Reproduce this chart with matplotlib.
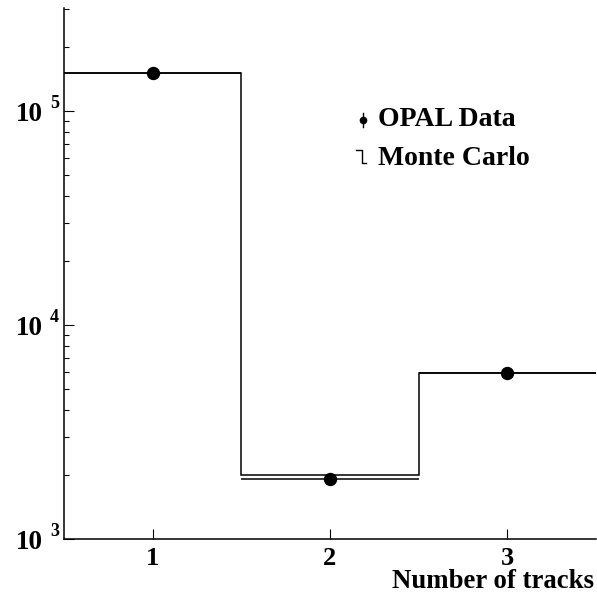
import matplotlib
matplotlib.use("Agg")
import matplotlib.pyplot as plt
from matplotlib.lines import Line2D
from matplotlib.ticker import LogLocator, NullFormatter
import numpy as np

# Track multiplicity distribution
bin_edges = [0.5, 1.5, 2.5, 3.5]
n_tracks = [1, 2, 3]
mc_counts = [150000, 1990, 5950]
data_counts = [150000, 1900, 5950]
x_tick_labels = ["1", "2", "3"]
decades = [3, 4, 5]

SERIF = "Liberation Serif"
W, H = 597, 601

fig = plt.figure(figsize=(W / 100, H / 100), dpi=100)
ax = fig.add_axes([64 / W, (H - 539) / H, 532 / W, 531 / H])

# Monte Carlo histogram
ax.stairs(mc_counts, bin_edges, color="black", linewidth=1.1, baseline=None)

# Data points with bin-width horizontal bars
half_width = np.diff(bin_edges) / 2
ax.errorbar(n_tracks, data_counts, xerr=half_width, fmt="o", color="black",
            markersize=8.6, elinewidth=1.1, capsize=0)

ax.set_yscale("log")
ax.set_xlim(0.5, 3.5)
ax.set_ylim(1e3, 3.03e5)

for side in ("top", "right"):
    ax.spines[side].set_visible(False)
for side in ("left", "bottom"):
    ax.spines[side].set_linewidth(1.1)

ax.set_xticks(n_tracks)
ax.set_xticklabels(x_tick_labels, fontfamily=SERIF, fontweight="bold", fontsize=19)
ax.tick_params(axis="x", which="major", direction="in", length=7, width=0.8, pad=6)

ax.yaxis.set_major_locator(LogLocator(base=10, numticks=10))
ax.yaxis.set_minor_locator(LogLocator(base=10, subs=np.arange(2, 10), numticks=20))
ax.yaxis.set_major_formatter(NullFormatter())
ax.yaxis.set_minor_formatter(NullFormatter())
ax.tick_params(axis="y", which="major", direction="in", length=7, width=0.8)
ax.tick_params(axis="y", which="minor", direction="in", length=3.4, width=0.8)

# Power-of-ten labels on the y axis
ytrans = ax.get_yaxis_transform()
for d in decades:
    ax.annotate("10", xy=(0, 10.0 ** d), xycoords=ytrans,
                xytext=(-21, -10), textcoords="offset pixels",
                ha="right", va="baseline", fontfamily=SERIF, fontweight="bold",
                fontsize=19.5, annotation_clip=False)
    ax.annotate(str(d), xy=(0, 10.0 ** d), xycoords=ytrans,
                xytext=(-14, 3), textcoords="offset pixels",
                ha="left", va="baseline", fontfamily=SERIF, fontweight="bold",
                fontsize=13, annotation_clip=False)

fig.text(594 / W, 1 - 588 / H, "Number of tracks", ha="right", va="baseline",
         fontfamily=SERIF, fontweight="bold", fontsize=19.3)

# Legend
def fx(px):
    return px / W

def fy(py):
    return 1 - py / H

fig.text(fx(378), fy(126), "OPAL Data", ha="left", va="baseline",
         fontfamily=SERIF, fontweight="bold", fontsize=20)
fig.text(fx(378), fy(165), "Monte Carlo", ha="left", va="baseline",
         fontfamily=SERIF, fontweight="bold", fontsize=20)
fig.add_artist(Line2D([fx(363), fx(363)], [fy(113), fy(127)], color="black",
                      linewidth=1.0, transform=fig.transFigure))
fig.add_artist(Line2D([fx(363)], [fy(119.5)], marker="o", markersize=4.5,
                      color="black", transform=fig.transFigure))
fig.add_artist(Line2D([fx(356), fx(362), fx(362), fx(366)],
                      [fy(149.5), fy(149.5), fy(163), fy(163)], color="black",
                      linewidth=1.0, transform=fig.transFigure))

fig.savefig("out.png", dpi=100, facecolor="white")
